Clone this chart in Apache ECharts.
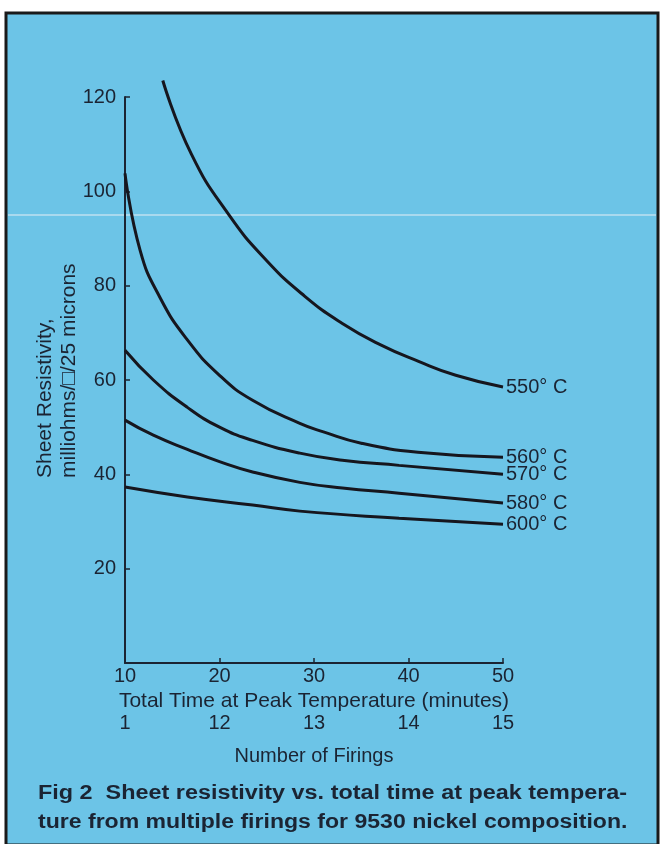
<!DOCTYPE html>
<html>
<head>
<meta charset="utf-8">
<script src="https://cdn.jsdelivr.net/npm/echarts@6/dist/echarts.min.js"></script>
<style>
html,body{margin:0;padding:0;background:#ffffff;}
#chart{width:668px;height:844px;}
</style>
</head>
<body>
<div id="chart"></div>
<script>
// ---- data ----
const seriesNames = ['550° C', '560° C', '570° C', '580° C', '600° C'];
const s550 = [[14,123.5],[17,108],[21,95],[25,85.3],[29,77.8],[33,72],[37,67.5],[41,64],[45,61],[50,58.5]];
const s560 = [[10,103.8],[11.6,87.5],[13.7,77.5],[16.6,68.5],[20,61],[23.5,55.7],[28.5,50.8],[31,49],[35,46.6],[41,44.7],[50,43.6]];
const s570 = [[10,66.3],[13,60],[16.6,54.2],[20,50],[23.5,47.2],[28.5,44.5],[33,43],[39,41.9],[50,40]];
const s580 = [[10,51.5],[13,48.3],[16.6,45.3],[20,42.7],[23.5,40.5],[28.5,38.3],[33,37.1],[39,36],[50,33.9]];
const s600 = [[10,37.3],[16.6,35.2],[23.5,33.5],[28.5,32.2],[39,30.7],[50,29.4]];
const timeTicks = [10, 20, 30, 40, 50];
const firingTicks = ['1', '12', '13', '14', '15'];
const yTicks = [20, 40, 60, 80, 100, 120];

const ink = '#1b2433';
const lineInk = '#16161e';
const font = '"Liberation Sans", Arial, sans-serif';

const chart = echarts.init(document.getElementById('chart'));
const allData = [s550, s560, s570, s580, s600];

const series = allData.map((d, i) => ({
  name: seriesNames[i],
  type: 'line',
  data: d,
  smooth: 0.5,
  clip: false,
  showSymbol: false,
  symbol: 'none',
  lineStyle: {color: lineInk, width: 3},
  endLabel: {
    show: true,
    formatter: '{a}',
    color: ink,
    fontFamily: font,
    fontSize: 20,
    distance: 3
  },
  animation: false
}));

chart.setOption({
  backgroundColor: '#ffffff',
  animation: false,
  graphic: [
    {type: 'rect', z: -10, shape: {x: 6, y: 13, width: 652, height: 832},
     style: {fill: '#6cc4e7', stroke: '#1a1a1a', lineWidth: 3}},
    {type: 'line', z: -9, shape: {x1: 8, y1: 215, x2: 656, y2: 215},
     style: {stroke: '#a9d9ee', lineWidth: 2}},
    {type: 'text', z: 10, x: 45, y: 478, rotation: Math.PI / 2,
     style: {text: 'Sheet Resistivity,', fill: ink, font: '21px ' + font, align: 'left', verticalAlign: 'middle'}},
    {type: 'text', z: 10, x: 69, y: 478, rotation: Math.PI / 2,
     style: {text: 'milliohms/□/25 microns', fill: ink, font: '21px ' + font, align: 'left', verticalAlign: 'middle'}},
    {type: 'text', z: 10, x: 38, y: 793, scaleX: 1.17,
     style: {text: 'Fig 2  Sheet resistivity vs. total time at peak tempera-', fill: ink, font: 'bold 20px ' + font, align: 'left', verticalAlign: 'middle'}},
    {type: 'text', z: 10, x: 38, y: 822, scaleX: 1.153,
     style: {text: 'ture from multiple firings for 9530 nickel composition.', fill: ink, font: 'bold 20px ' + font, align: 'left', verticalAlign: 'middle'}}
  ],
  grid: {left: 125, right: 165, top: 97, bottom: 181, containLabel: false},
  xAxis: [
    {
      type: 'value', min: 10, max: 50, interval: 10,
      position: 'bottom',
      name: 'Total Time at Peak Temperature (minutes)',
      nameLocation: 'middle', nameGap: 27,
      nameTextStyle: {color: ink, fontFamily: font, fontSize: 21},
      axisLine: {show: true, lineStyle: {color: ink, width: 2}},
      axisTick: {show: true, inside: true, length: 5, lineStyle: {color: ink, width: 1.5},
        customValues: timeTicks.slice(1)},
      axisLabel: {color: ink, fontFamily: font, fontSize: 20, margin: 3,
        customValues: timeTicks},
      splitLine: {show: false}
    },
    {
      type: 'value', min: 10, max: 50, interval: 10,
      position: 'bottom', offset: 50,
      name: 'Number of Firings',
      nameLocation: 'middle', nameGap: 33,
      nameTextStyle: {color: ink, fontFamily: font, fontSize: 20},
      axisLine: {show: false},
      axisTick: {show: false},
      axisLabel: {color: ink, fontFamily: font, fontSize: 20, margin: 0,
        formatter: v => firingTicks[timeTicks.indexOf(v)] || ''},
      splitLine: {show: false}
    }
  ],
  yAxis: {
    type: 'value', min: 0, max: 120, interval: 20,
    axisLine: {show: true, lineStyle: {color: ink, width: 2}},
    axisTick: {show: true, inside: true, length: 5, lineStyle: {color: ink, width: 1.5},
      customValues: yTicks},
    axisLabel: {color: ink, fontFamily: font, fontSize: 20, margin: 9,
      customValues: yTicks},
    splitLine: {show: false}
  },
  series: series
});
</script>
</body>
</html>
